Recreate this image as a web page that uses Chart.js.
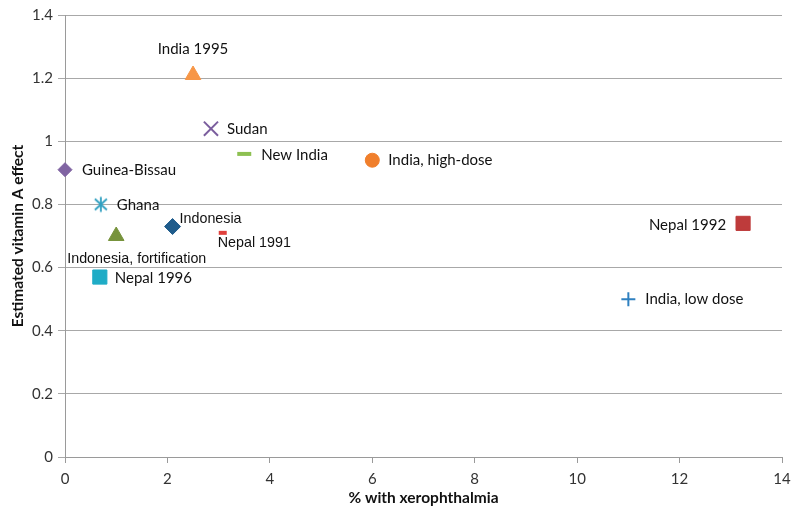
<!DOCTYPE html>
<html>
<head>
<meta charset="utf-8">
<script src="https://cdn.jsdelivr.net/npm/chart.js@4"></script>
<style>
  html, body { margin: 0; padding: 0; background: #fff; }
  #wrap { width: 800px; height: 520px; position: relative; }
</style>
</head>
<body>
<div id="wrap"><canvas id="myChart"></canvas></div>
<script>
// Studies (one point each)
const studies = ['India 1995', 'Sudan', 'New India', 'India, high-dose', 'Guinea-Bissau', 'Ghana',
  'Indonesia', 'Nepal 1991', 'Indonesia, fortification', 'Nepal 1996', 'Nepal 1992', 'India, low dose'];
const xerophthalmia = [2.5, 2.85, 3.5, 6.0, 0.0, 0.7, 2.1, 3.08, 1.0, 0.68, 13.24, 11.0];
const effect = [1.21, 1.04, 0.96, 0.94, 0.91, 0.80, 0.73, 0.71, 0.70, 0.57, 0.74, 0.50];
const yTicks = [0, 0.2, 0.4, 0.6, 0.8, 1, 1.2, 1.4];
const xTicks = [0, 2, 4, 6, 8, 10, 12, 14];

// custom 6-arm asterisk for Ghana
function asterisk(color) {
  const c = document.createElement('canvas');
  c.width = 18; c.height = 18;
  const g = c.getContext('2d');
  g.strokeStyle = color; g.lineWidth = 1.8;
  g.beginPath();
  g.moveTo(9, 1.5); g.lineTo(9, 16.5);
  g.moveTo(3, 3.5); g.lineTo(15, 14.5);
  g.moveTo(15, 3.5); g.lineTo(3, 14.5);
  g.stroke();
  return c;
}

// marker styles, one per study
const markers = [
  { style: 'triangle', color: '#F79646', r: 9, bw: 1 },
  { style: 'crossRot', color: '#7B5E9E', r: 10, bw: 2 },
  { style: 'line', color: '#8DC051', r: 7, bw: 4 },
  { style: 'circle', color: '#F07F2C', r: 7, bw: 1 },
  { style: 'rectRot', color: '#8064A2', r: 7, bw: 1 },
  { style: asterisk('#2F9FC0'), color: '#2F9FC0', r: 9, bw: 1 },
  { style: 'rectRot', color: '#1F5C8C', r: 8, bw: 1 },
  { style: 'line', color: '#E0403C', r: 4, bw: 4 },
  { style: 'triangle', color: '#77933C', r: 9, bw: 1 },
  { style: 'rect', color: '#1FACC6', r: 10, bw: 1 },
  { style: 'rect', color: '#BE3B3B', r: 10, bw: 1 },
  { style: 'cross', color: '#2F80C0', r: 7, bw: 2 }
];

const calibri = 'Lato, "Open Sans", sans-serif';
const arial = '"Liberation Sans", Arial, sans-serif';
// label placement relative to the point
const labelPos = [
  { dx: 0, dy: -26, align: 'center', font: calibri },
  { dx: 16, dy: 0, align: 'left', font: calibri },
  { dx: 17, dy: 1, align: 'left', font: calibri },
  { dx: 16, dy: 0, align: 'left', font: calibri },
  { dx: 17, dy: 0, align: 'left', font: calibri },
  { dx: 16, dy: 1, align: 'left', font: calibri },
  { dx: 7, dy: -7, align: 'left', font: arial },
  { dx: -5, dy: 10, align: 'left', font: arial },
  { dx: -49, dy: 23, align: 'left', font: arial },
  { dx: 15, dy: 1, align: 'left', font: calibri },
  { dx: -17, dy: 2, align: 'right', font: calibri },
  { dx: 17, dy: 0, align: 'left', font: calibri }
];

const datasets = studies.map((name, i) => ({
  label: name,
  data: [{ x: xerophthalmia[i], y: effect[i] }],
  clip: false,
  pointStyle: markers[i].style,
  pointRadius: markers[i].r,
  pointHoverRadius: markers[i].r,
  pointBackgroundColor: markers[i].color,
  pointBorderColor: markers[i].color,
  pointBorderWidth: markers[i].bw,
  pointHoverBorderWidth: markers[i].bw
}));

const pointLabels = {
  id: 'pointLabels',
  afterDatasetsDraw(chart) {
    const ctx = chart.ctx;
    ctx.save();
    ctx.fillStyle = '#111';
    ctx.textBaseline = 'middle';
    chart.data.datasets.forEach((ds, i) => {
      const pt = chart.getDatasetMeta(i).data[0];
      const p = labelPos[i];
      ctx.font = (p.font === arial ? '14.3px ' : '15px ') + p.font;
      ctx.textAlign = p.align;
      ctx.fillText(ds.label, pt.x + p.dx, pt.y + p.dy);
    });
    ctx.restore();
  }
};

const ctx = document.getElementById('myChart').getContext('2d');
new Chart(ctx, {
  type: 'scatter',
  data: { datasets },
  options: {
    responsive: true,
    maintainAspectRatio: false,
    animation: false,
    layout: { padding: { top: 15, right: 18, left: 0, bottom: 0 } },
    plugins: { legend: { display: false }, tooltip: { enabled: false } },
    scales: {
      x: {
        type: 'linear', min: 0, max: 14,
        afterBuildTicks: s => { s.ticks = xTicks.map(v => ({ value: v })); },
        afterFit: s => { s.height = 63; },
        grid: { drawOnChartArea: false, drawTicks: true, tickLength: 6, color: '#9a9a9a' },
        border: { display: true, color: '#9a9a9a' },
        ticks: { color: '#333', font: { family: calibri, size: 15 }, padding: 7, maxRotation: 0,
          callback: v => String(v) },
        title: { display: true, text: '% with xerophthalmia', color: '#111',
          font: { family: calibri, size: 15.5, weight: 'bold' }, padding: { top: 0, bottom: 13 } }
      },
      y: {
        type: 'linear', min: 0, max: 1.4,
        afterBuildTicks: s => { s.ticks = yTicks.map(v => ({ value: v })); },
        afterFit: s => { s.width = 65; },
        grid: { color: '#a8a8a8', drawTicks: true, tickLength: 7 },
        border: { display: true, color: '#9a9a9a' },
        ticks: { color: '#333', font: { family: calibri, size: 15 }, padding: 5,
          callback: v => String(v) },
        title: { display: true, text: 'Estimated vitamin A effect', color: '#111',
          font: { family: calibri, size: 15.5, weight: 'bold' }, padding: { top: 9, bottom: 0 } }
      }
    }
  },
  plugins: [pointLabels]
});
</script>
</body>
</html>
